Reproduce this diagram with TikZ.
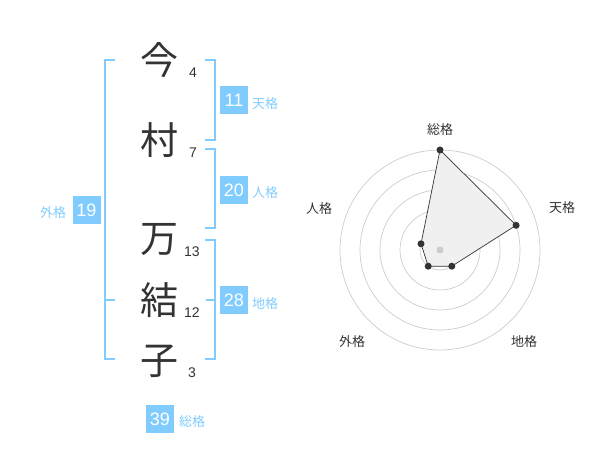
\documentclass[tikz,border=0pt]{standalone}
\usepackage{fontspec}
\setmainfont{Liberation Sans}
\newfontfamily\cjk{Noto Sans CJK JP}
\definecolor{sky}{HTML}{80CCFF}
\definecolor{ink}{HTML}{333333}
\definecolor{ring}{HTML}{CCCCCC}
\definecolor{area}{HTML}{F0F0F0}
\begin{document}
\begin{tikzpicture}[x=1pt,y=-1pt,
  kanji/.style={font=\cjk\fontsize{38}{38}\selectfont,text=ink,inner sep=0pt},
  strokes/.style={font=\fontsize{14}{14}\selectfont,text=ink,inner sep=0pt},
  valbox/.style={fill=sky,text=white,minimum width=28pt,minimum height=28pt,inner sep=0pt,font=\fontsize{18}{18}\selectfont},
  kaku/.style={font=\cjk\fontsize{13}{13}\selectfont,text=sky,inner sep=0pt},
  axislabel/.style={font=\cjk\fontsize{13}{13}\selectfont,text=ink,inner sep=0pt},
  bracket/.style={draw=sky,line width=1.6pt},
  ringline/.style={draw=ring,line width=0.7pt},
  dot/.style={circle,fill=ink,inner sep=0pt,minimum size=7pt}]
\useasboundingbox (0,0) rectangle (600,470);
% characters
\node[kanji] (c1) at (159,60) {今};
\node[kanji] (c2) at (159,140) {村};
\node[kanji] (c3) at (159,240) {万};
\node[kanji] (c4) at (159,300) {結};
\node[kanji] (c5) at (159,361) {子};
\node[strokes] (s1) at (193,73) {4};
\node[strokes] (s2) at (193,153) {7};
\node[strokes] (s3) at (192,252) {13};
\node[strokes] (s4) at (192,313) {12};
\node[strokes] (s5) at (192,373) {3};
% brackets
\draw[bracket] (115,60) -- (105,60) -- (105,359) -- (115,359);
\draw[bracket] (105,300) -- (115,300);
\draw[bracket] (205,60) -- (215,60) -- (215,140) -- (205,140);
\draw[bracket] (205,149) -- (215,149) -- (215,228) -- (205,228);
\draw[bracket] (205,240) -- (215,240) -- (215,359) -- (205,359);
\draw[bracket] (215,300) -- (206,300);
% value boxes
\node[valbox] (ten) at (234,100) {11};
\node[kaku] (tenl) at (265,104) {天格};
\node[valbox] (jin) at (234,190) {20};
\node[kaku] (jinl) at (265,193) {人格};
\node[valbox] (chi) at (234,300) {28};
\node[kaku] (chil) at (265,304) {地格};
\node[valbox] (gai) at (86.5,210) {19};
\node[kaku] (gail) at (53,213) {外格};
\node[valbox] (sou) at (160,419) {39};
\node[kaku] (soul) at (192,422) {総格};
% radar
\coordinate (O) at (440,250);
\foreach \r in {20,40,60,80,100} \draw[ringline] (O) circle[radius=\r];
\coordinate (pS) at (440,150);
\coordinate (pT) at (516.1,225.3);
\coordinate (pC) at (451.8,266.2);
\coordinate (pG) at (428.2,266.2);
\coordinate (pJ) at (421.0,243.8);
\filldraw[fill=area,draw=ink,line width=0.7pt] (pS) -- (pT) -- (pC) -- (pG) -- (pJ) -- cycle;
\node[circle,fill=ring,inner sep=0pt,minimum size=7pt] (cen) at (O) {};
\foreach \p in {pS,pT,pC,pG,pJ} \node[dot] at (\p) {};
\node[axislabel] (aS) at (440,130) {総格};
\node[axislabel] (aT) at (562,208) {天格};
\node[axislabel] (aJ) at (319,209) {人格};
\node[axislabel] (aG) at (352,342) {外格};
\node[axislabel] (aC) at (524,342) {地格};
\end{tikzpicture}
\end{document}
